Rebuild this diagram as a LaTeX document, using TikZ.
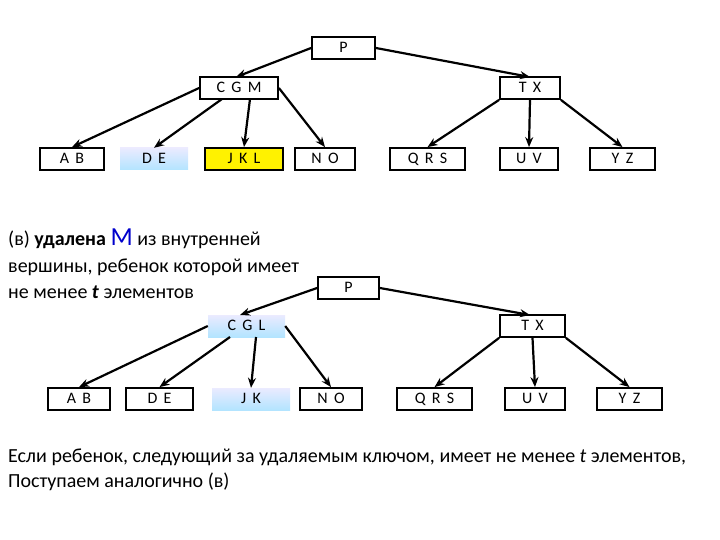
\documentclass[tikz,border=0pt]{standalone}
\usepackage{fontspec}
\setmainfont{Carlito}
\usetikzlibrary{arrows.meta}
\begin{document}
\begin{tikzpicture}[x=1pt,y=-1pt,
 bx/.style={draw,line width=1.8pt,minimum height=22pt,inner sep=0pt,text height=11pt,text depth=2pt,font=\fontsize{16}{16}\selectfont},
 bl/.style={draw=none,top color=blue!8,bottom color=blue!35!cyan!30,minimum height=22pt,inner sep=0pt,text height=11pt,text depth=2pt,font=\fontsize{16}{16}\selectfont},
 ar/.style={line width=2.2pt,-{Stealth[length=10pt,width=8pt]}}]
\useasboundingbox (0,0) rectangle (720,540);
\def\bxat#1#2#3#4#5#6{\node[#1,minimum width=#4-#3 pt] (#2) at ({(#3+#4)/2},#5) {#6};}
% top tree
\bxat{bx}{P1}{312}{375}{48}{P}
\bxat{bx}{CGM}{200}{278}{88}{C\, G\, M}
\bxat{bx}{TX1}{500}{560}{88}{T\, X}
\bxat{bx}{AB1}{40}{104}{159}{A\, B}
\bxat{bl}{DE1}{120}{188}{159}{D\, E}
\node[bx,fill=yellow,minimum width=78pt] (JKL) at (244,159) {J\, K\, L};
\bxat{bx}{NO1}{295}{355}{159}{N\, O}
\bxat{bx}{QRS1}{390}{465}{159}{Q\, R\, S}
\bxat{bx}{UV1}{500}{558}{159}{U\, V}
\bxat{bx}{YZ1}{590}{655}{159}{Y\, Z}
\draw[ar] (P1.west) -- (236,77);
\draw[ar] (P1.east) -- (530,77);
\draw[ar] (CGM.west) -- (AB1.north);
\draw[ar] (222,99) -- (DE1.north);
\draw[ar] (250,99) -- (JKL.north);
\draw[ar] (CGM.east) -- (NO1.north);
\draw[ar] (TX1.south west) -- (QRS1.north);
\draw[ar] (TX1.south) -- (UV1.north);
\draw[ar] (TX1.south east) -- (YZ1.north);
% text
\node[anchor=north west,align=left,inner sep=0pt,font=\fontsize{20}{26.5}\selectfont] (txt) at (8,229)
 {(в) \textbf{удалена} {\color{blue!80!black}\fontsize{26}{26}\selectfont M} из внутренней\\вершины, ребенок которой имеет\\не менее \textbf{\textit{t}} элементов};
% bottom tree
\bxat{bx}{P2}{318}{379}{288}{P}
\bxat{bl}{CGL}{208}{285}{326}{C\, G\, L}
\bxat{bx}{TX2}{500}{565}{326}{T\, X}
\bxat{bx}{AB2}{48}{110}{399}{A\, B}
\bxat{bx}{DE2}{126}{193}{399}{D\, E}
\bxat{bl}{JK}{212}{290}{399}{J\, K}
\bxat{bx}{NO2}{300}{362}{399}{N\, O}
\bxat{bx}{QRS2}{397}{472}{399}{Q\, R\, S}
\bxat{bx}{UV2}{505}{565}{399}{U\, V}
\bxat{bx}{YZ2}{597}{662}{399}{Y\, Z}
\draw[ar] (P2.west) -- (240,315);
\draw[ar] (P2.east) -- (530,315);
\draw[ar] (CGL.west) -- (AB2.north);
\draw[ar] (230,337) -- (DE2.north);
\draw[ar] (256,337) -- (JK.north);
\draw[ar] (CGL.east) -- (NO2.north);
\draw[ar] (TX2.south west) -- (QRS2.north);
\draw[ar] (TX2.south) -- (UV2.north);
\draw[ar] (TX2.south east) -- (YZ2.north);
\node[anchor=north west,align=left,inner sep=0pt,font=\fontsize{20}{25}\selectfont] (txt2) at (8,449)
 {Если ребенок, следующий за удаляемым ключом, имеет не менее \textit{t} элементов,\\Поступаем аналогично (в)};
\end{tikzpicture}
\end{document}
